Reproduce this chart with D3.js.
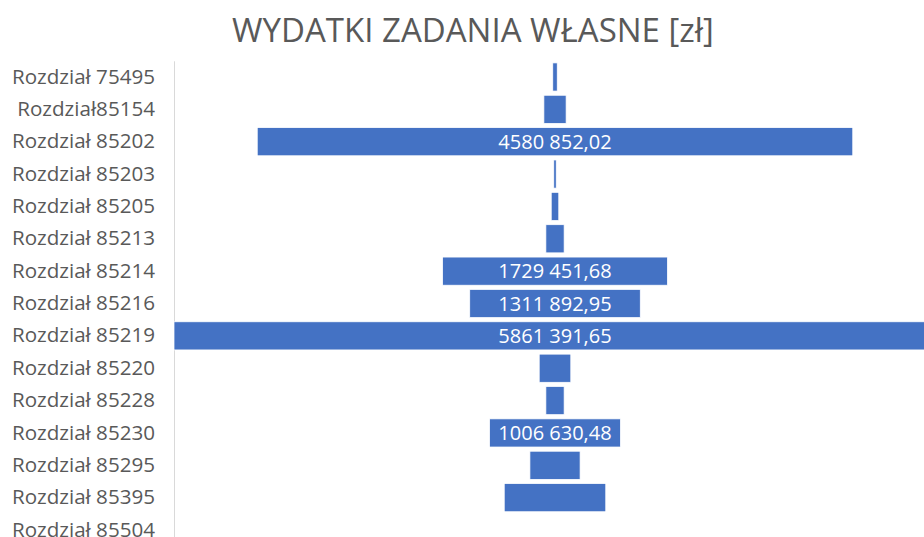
<!DOCTYPE html>
<html lang="pl">
  <head>
    <meta charset="UTF-8" />
    <title>Wydatki zadania własne</title>
    <script src="https://cdn.jsdelivr.net/npm/d3@7.6.1/dist/d3.min.js"></script>
    <style>
      body { margin: 0; background: #fff; }
      svg { display: block; }
      .axis .domain { stroke: #d9d9d9; }
      .axis text { fill: #595959; font: 20.6px 'Open Sans', sans-serif; }
    </style>
  </head>
  <body>
    <div id="box"></div>
    <script>
      const width = 924;
      const height = 537;

      // dane
      const categories = [
        'Rozdział 75495', 'Rozdział85154', 'Rozdział 85202', 'Rozdział 85203',
        'Rozdział 85205', 'Rozdział 85213', 'Rozdział 85214', 'Rozdział 85216',
        'Rozdział 85219', 'Rozdział 85220', 'Rozdział 85228', 'Rozdział 85230',
        'Rozdział 85295', 'Rozdział 85395', 'Rozdział 85504'
      ];
      const values = [
        34500, 171000, 4580852.02, 19000,
        58000, 140500, 1729451.68, 1311892.95,
        5861391.65, 243000, 140500, 1006630.48,
        386000, 781000, 0
      ];
      const title = 'WYDATKI ZADANIA WŁASNE [zł]';

      const svg = d3.select('#box').append('svg').attr('width', width).attr('height', height);

      // obszar wykresu
      const plotLeft = 174;
      const centre = 555;

      const xScale = d3.scaleLinear()
        .domain([0, d3.max(values)])
        .range([0, (centre - plotLeft) * 2]);

      const yScale = d3.scaleBand()
        .domain(categories)
        .range([60.8, 60.8 + 32.36 * categories.length])
        .paddingInner(0.13)
        .paddingOuter(0.065);

      // format liczb: "4580 852,02"
      const pl = d3.formatLocale({decimal: ',', thousands: ' ', grouping: [3, 9], currency: ['', '']});
      const fmt = pl.format(',.2f');

      // tytuł
      svg.append('text')
        .attr('x', 473)
        .attr('y', 42)
        .attr('text-anchor', 'middle')
        .attr('fill', '#595959')
        .style('font', "33px 'Open Sans', sans-serif")
        .text(title);

      // oś kategorii
      svg.append('g')
        .attr('class', 'axis')
        .attr('transform', `translate(${plotLeft},0)`)
        .call(d3.axisLeft(yScale).tickSize(0).tickSizeOuter(0).tickPadding(19));

      const rows = categories.map((c, i) => ({c, v: values[i]}));

      // słupki
      svg.selectAll('.bar')
        .data(rows.filter(d => d.v > 0))
        .enter()
        .append('rect')
        .attr('class', 'bar')
        .attr('x', d => centre - xScale(d.v) / 2)
        .attr('y', d => yScale(d.c))
        .attr('width', d => xScale(d.v))
        .attr('height', yScale.bandwidth())
        .attr('fill', '#4472c4')
        .attr('stroke', '#fff')
        .attr('stroke-width', 0.75);

      // etykiety danych (tylko gdy się mieszczą)
      svg.selectAll('.lbl')
        .data(rows.filter(d => xScale(d.v) > 125))
        .enter()
        .append('text')
        .attr('class', 'lbl')
        .attr('x', centre)
        .attr('y', d => yScale(d.c) + yScale.bandwidth() / 2)
        .attr('dy', '0.35em')
        .attr('text-anchor', 'middle')
        .attr('fill', '#fff')
        .style('font', "20px 'Open Sans', sans-serif")
        .text(d => fmt(d.v));
    </script>
  </body>
</html>
